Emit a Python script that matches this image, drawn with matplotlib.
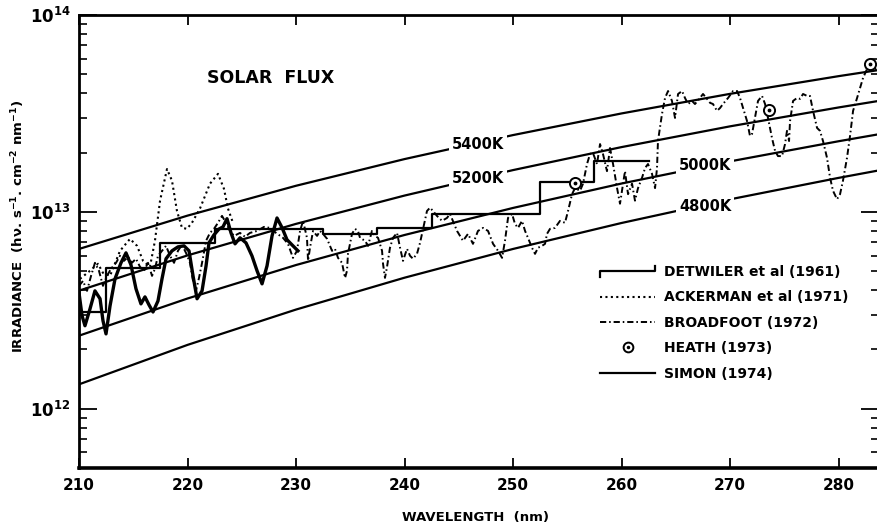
import matplotlib as mpl
mpl.use('Agg')
import numpy as np
import matplotlib.pyplot as plt
from matplotlib.lines import Line2D
from matplotlib.legend_handler import HandlerBase

mpl.rcParams['font.family'] = 'DejaVu Sans'
mpl.rcParams['font.weight'] = 'bold'
mpl.rcParams['mathtext.default'] = 'bf'

# black body curves (photon irradiance, read at 10 nm steps)
bb_wl = [210, 220, 230, 240, 250, 260, 270, 280, 284]
bb_5400 = [6.48e12, 9.57e12, 1.357e13, 1.854e13, 2.455e13, 3.162e13, 3.976e13, 4.890e13, 5.283e13]
bb_5200 = [3.98e12, 6.01e12, 8.69e12, 1.210e13, 1.630e13, 2.133e13, 2.719e13, 3.391e13, 3.683e13]
bb_5000 = [2.35e12, 3.63e12, 5.37e12, 7.63e12, 1.047e13, 1.393e13, 1.805e13, 2.284e13, 2.495e13]
bb_4800 = [1.33e12, 2.11e12, 3.19e12, 4.63e12, 6.48e12, 8.78e12, 1.158e13, 1.488e13, 1.635e13]

# Detwiler et al (1961), 5 nm bins (units 1e12)
det_wl = [210, 212.5, 217.5, 222.5, 232.5, 237.5, 242.5, 252.5, 257.5, 262.5]
det_val = [3.1, 5.2, 6.97, 8.2, 7.7, 8.3, 9.8, 14.2, 18.2, 18.2]

# Ackerman et al (1971) (units 1e12)
ack_wl = [210.09, 211.01, 211.75, 212.21, 212.86, 213.78, 214.70, 215.35, 215.90, 216.54,
          217.00, 217.47, 218.11, 218.57, 219.03, 219.49, 219.95, 220.41, 221.15, 222.07,
          222.81, 223.36, 223.73, 224.19]
ack_val = [4.57, 5.02, 5.45, 4.90, 4.73, 6.34, 7.29, 6.72, 5.64, 5.26,
           7.13, 11.4, 16.5, 14.4, 10.1, 8.3, 8.2, 8.8, 10.4, 13.9,
           15.6, 13.1, 10.4, 8.8]

# Broadfoot (1972) (units 1e12)
bro_wl = [210.00, 210.37, 210.74, 211.11, 211.47, 211.84, 212.21, 212.58, 212.95, 213.41,
          213.78, 214.15, 214.52, 214.88, 215.25, 215.62, 215.99, 216.36, 216.73, 217.00,
          217.28, 217.65, 218.02, 218.39, 218.76, 219.12, 219.49, 219.86, 220.23, 220.51,
          220.78, 221.06, 221.34, 221.71, 222.07, 222.44, 222.81, 223.18, 223.55, 223.92,
          224.29, 224.84, 225.30, 225.76, 226.41, 227.05, 227.60, 228.16, 228.80, 229.26,
          229.72, 230.09, 230.37, 230.65, 231.01, 231.11, 231.29, 231.57, 231.94, 232.21,
          232.49, 232.86, 233.32, 233.59, 233.87, 234.24, 234.52, 234.70, 234.79, 235.16,
          235.44, 235.71, 235.90, 236.36, 236.64, 237.00, 237.28, 237.56, 237.93, 238.02,
          238.20, 238.39, 238.66, 238.94, 239.31, 239.59, 239.86, 240.23, 240.51, 240.78,
          241.15, 241.43, 241.71, 242.07, 242.35, 242.63, 242.99, 243.46, 243.92, 244.19,
          244.84, 245.39, 245.85, 246.31, 246.77, 247.24, 247.70, 248.16, 248.62, 248.99,
          249.26, 249.54, 249.91, 250.18, 250.46, 250.83, 251.11, 251.38, 251.75, 252.03,
          252.30, 252.67, 252.95, 253.13, 253.41, 253.87, 254.33, 254.79, 255.07, 255.44,
          255.71, 256.18, 256.45, 256.82, 257.10, 257.37, 257.74, 258.02, 258.29, 258.66,
          258.94, 259.22, 259.59, 259.86, 260.14, 260.32, 260.60, 260.97, 261.24, 261.52,
          261.89, 262.17, 262.44, 262.81, 263.09, 263.27, 263.36, 263.73, 264.01, 264.29,
          264.65, 264.93, 265.21, 265.58, 265.85, 266.13, 266.50, 266.77, 267.23, 267.51,
          267.88, 268.16, 268.43, 268.80, 269.08, 269.35, 269.82, 270.28, 270.65, 270.92,
          271.20, 271.57, 271.84, 272.03, 272.30, 272.58, 272.95, 273.23, 273.50, 273.87,
          274.15, 274.42, 274.79, 275.07, 275.25, 275.44, 275.53, 275.81, 276.18, 276.45,
          276.73, 277.10, 277.37, 277.65, 278.02, 278.29, 278.57, 278.94, 279.22, 279.49,
          279.86, 280.14, 280.41, 280.78, 281.06, 281.34, 281.71, 281.98, 282.26, 282.63,
          282.90, 283.18, 283.55]
bro_val = [4.21, 4.46, 3.97, 4.73, 5.51, 5.02, 4.21, 4.73, 5.14, 5.51,
           5.98, 5.64, 5.91, 5.51, 5.78, 5.26, 5.02, 5.51, 4.73, 5.14,
           5.98, 6.34, 6.72, 5.98, 5.51, 6.34, 6.80, 6.19, 5.51, 4.46,
           3.97, 4.62, 5.51, 7.13, 7.82, 8.20, 8.80, 9.54, 8.80, 8.00,
           7.55, 7.82, 7.47, 7.82, 8.00, 8.39, 8.29, 7.82, 7.38, 6.88,
           5.84, 6.34, 8.00, 9.00, 7.38, 5.64, 6.57, 8.00, 7.55, 8.00,
           7.73, 7.30, 6.34, 6.49, 5.84, 5.51, 4.62, 5.02, 6.12, 7.73,
           8.20, 8.00, 7.38, 7.13, 6.72, 8.00, 7.55, 7.38, 6.34, 5.45,
           4.62, 5.26, 6.57, 7.38, 7.82, 6.57, 5.64, 6.49, 5.98, 5.78,
           6.12, 6.96, 8.20, 10.1, 10.5, 10.1, 9.54, 9.00, 9.32, 9.77,
           8.00, 7.13, 7.73, 6.88, 8.00, 8.29, 8.00, 6.88, 6.34, 5.84,
           7.13, 9.32, 9.77, 8.69, 8.29, 9.00, 8.00, 7.38, 6.57, 6.12,
           6.57, 6.72, 6.88, 7.73, 8.20, 8.29, 9.00, 8.80, 10.1, 12.3,
           13.2, 12.8, 13.9, 17.5, 19.7, 19.9, 17.5, 22.1, 19.7, 16.1,
           21.1, 17.5, 13.2, 11.0, 13.9, 16.1, 12.3, 13.9, 11.4, 13.2,
           14.9, 16.7, 17.5, 15.6, 13.2, 16.7, 22.9, 31.4, 37.9, 41.1,
           36.6, 30.0, 39.7, 41.1, 37.9, 35.3, 36.6, 35.3, 37.9, 39.7,
           37.5, 35.8, 35.3, 32.6, 33.7, 35.3, 37.9, 41.1, 41.1, 37.9,
           33.7, 28.9, 24.3, 24.9, 30.0, 36.6, 38.8, 35.3, 30.0, 23.7,
           20.4, 19.2, 19.2, 22.1, 25.8, 22.9, 28.9, 36.6, 37.9, 37.5,
           39.7, 38.8, 38.8, 32.6, 26.7, 25.8, 22.9, 18.8, 14.9, 12.8,
           11.6, 12.3, 14.4, 18.8, 24.3, 32.6, 37.9, 42.6, 47.9, 53.2,
           56.4, 52.0, 53.8]

# Heath (1973) (units 1e12)
hea_wl = [255.7, 273.6, 282.9]
hea_val = [14.0, 33.0, 56.4]

# Simon (1974) (units 1e12)
sim_wl = [210.00, 210.28, 210.55, 211.01, 211.47, 211.94, 212.21, 212.49, 212.86, 213.32,
          213.87, 214.33, 214.79, 215.25, 215.71, 216.08, 216.45, 216.82, 217.28, 217.65,
          218.02, 218.57, 219.12, 219.68, 220.14, 220.51, 220.88, 221.34, 221.71, 221.98,
          222.44, 222.90, 223.27, 223.64, 224.01, 224.38, 224.84, 225.39, 225.94, 226.41,
          226.87, 227.33, 227.79, 228.25, 228.71, 229.17, 229.63, 230.18]
sim_val = [3.88, 2.97, 2.64, 3.21, 3.97, 3.62, 2.80, 2.40, 3.33, 4.57,
           5.51, 6.19, 5.38, 4.07, 3.41, 3.70, 3.37, 3.10, 3.53, 4.57,
           5.78, 6.34, 6.64, 6.72, 6.34, 4.73, 3.62, 3.97, 5.32, 6.96,
           7.64, 8.18, 8.39, 9.23, 7.82, 6.88, 7.38, 6.96, 5.98, 5.02,
           4.31, 5.32, 7.55, 9.31, 8.32, 7.22, 6.80, 6.34]

bb_labels = [('5400K', 246.8, 2.19e13), ('5200K', 246.8, 1.47e13),
             ('5000K', 267.7, 1.71e13), ('4800K', 267.7, 1.07e13)]
legend_labels = ['DETWILER et al (1961)', 'ACKERMAN et al (1971)',
                 'BROADFOOT (1972)', 'HEATH (1973)', 'SIMON (1974)']

E12 = 1e12
dashdot = (0, (3.2, 1.5, 0.8, 1.5))
dotted = (0, (1, 1.6))


class StepHandler(HandlerBase):
    def create_artists(self, legend, orig_handle, xdescent, ydescent,
                       width, height, fontsize, trans):
        y0 = (height - ydescent) / 2.
        d = height * 0.55
        x0, x1 = -xdescent, width - xdescent
        ln = Line2D([x0, x0, x1, x1], [y0 - d, y0, y0, y0 + d],
                    color='black', lw=1.6)
        ln.set_transform(trans)
        return [ln]


fig = plt.figure(figsize=(8.77, 5.28), dpi=100)
ax = fig.add_axes([79/877., 60/528., 800/877., 453/528.])

for vals in (bb_5400, bb_5200, bb_5000, bb_4800):
    ax.plot(bb_wl, vals, c='black', lw=1.6, zorder=2)
for txt, x, y in bb_labels:
    ax.text(x, y, txt, ha='center', va='center', fontsize=10.5, zorder=3,
            bbox=dict(fc='white', ec='none', pad=2))

ax.step(det_wl, np.array(det_val)*E12, where='post', c='black', lw=1.6, zorder=4)
ax.plot(ack_wl, np.array(ack_val)*E12, c='black', lw=1.5, ls=dotted, zorder=4)
ax.plot(bro_wl, np.array(bro_val)*E12, c='black', lw=1.4, ls=dashdot, zorder=4)
ax.plot(sim_wl, np.array(sim_val)*E12, c='black', lw=2.4, zorder=5)
ax.plot(hea_wl, np.array(hea_val)*E12, ls='none', marker='o', ms=8, mfc='white',
        mec='black', mew=1.4, zorder=6)
ax.plot(hea_wl, np.array(hea_val)*E12, ls='none', marker='.', ms=3.5, c='black', zorder=7)

ax.set_yscale('log')
ax.set_xlim(210, 283.73)
ax.set_ylim(5e11, 1e14)
ax.set_xticks(range(210, 290, 10))
ax.set_xticklabels([str(v) for v in range(210, 290, 10)], fontsize=11)
ax.set_yticks([1e12, 1e13, 1e14])
ax.set_yticklabels([r'$10^{12}$', r'$10^{13}$', r'$10^{14}$'], fontsize=12)
ax.tick_params(axis='x', which='major', direction='in', top=True, length=7, width=1.3, pad=7)
ax.tick_params(axis='y', which='major', direction='in', right=True, length=13, width=1.3, pad=6)
ax.tick_params(axis='y', which='minor', direction='in', right=True, length=6, width=1.2)
for sp in ax.spines.values():
    sp.set_linewidth(2.0)
ax.spines['bottom'].set_linewidth(2.6)

ax.text(0.239, 0.861, 'SOLAR  FLUX', transform=ax.transAxes, ha='center',
        va='center', fontsize=12.5)

fig.text(475/877., 1 - 518/528., 'WAVELENGTH  (nm)', ha='center', va='center', fontsize=9.5)
fig.text(18/877., 1 - 226/528., r'IRRADIANCE  (hν. s$^{-1}$. cm$^{-2}$ nm$^{-1}$)',
         ha='center', va='center', rotation=90, fontsize=9.5)

h_det = Line2D([], [], c='black', lw=1.6)
h_ack = Line2D([], [], c='black', lw=1.5, ls=dotted)
h_bro = Line2D([], [], c='black', lw=1.4, ls=dashdot)
h_hea = (Line2D([], [], ls='none', marker='o', ms=7, mfc='white', mec='black', mew=1.4),
         Line2D([], [], ls='none', marker='.', ms=3, c='black'))
h_sim = Line2D([], [], c='black', lw=1.6)
ax.legend([h_det, h_ack, h_bro, h_hea, h_sim], legend_labels,
          handler_map={h_det: StepHandler()},
          loc='upper left', bbox_to_anchor=(0.651, 0.448), frameon=False,
          borderpad=0, borderaxespad=0, handlelength=4.0, handletextpad=0.65,
          labelspacing=0.82, prop={'size': 10, 'weight': 'bold'}, numpoints=1)

plt.savefig('out.png', dpi=100)
plt.close()
